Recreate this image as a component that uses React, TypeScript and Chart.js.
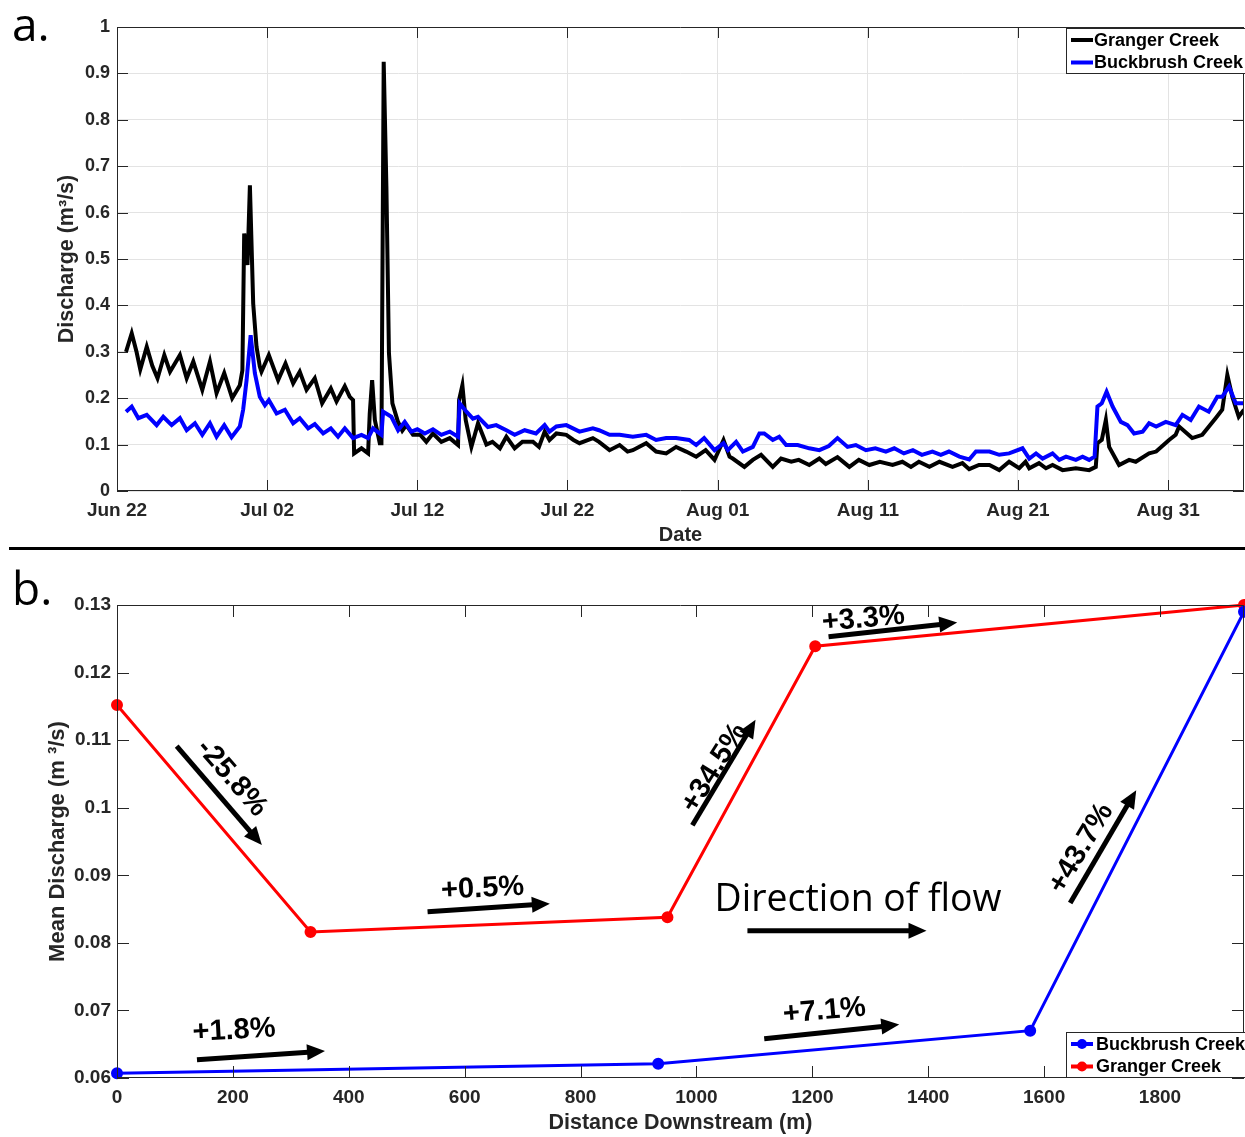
import React, { useEffect, useRef } from "react";
import { Chart, registerables } from "chart.js";

Chart.register(...registerables);

// ---------- Panel a: discharge time series ----------
const dateTickDays = [0, 10, 20, 30, 40, 50, 60, 70];
const dateTickLabels = ["Jun 22", "Jul 02", "Jul 12", "Jul 22", "Aug 01", "Aug 11", "Aug 21", "Aug 31"];
const dischargeTicks = [0, 0.1, 0.2, 0.3, 0.4, 0.5, 0.6, 0.7, 0.8, 0.9, 1];
const daysMax = 75.05;

const grangerDays = [
  0.6, 0.98, 1.3, 1.55, 1.98, 2.35, 2.7, 3.15, 3.53, 4.19, 4.64, 5.08, 5.68, 6.19, 6.63, 7.14, 7.67, 8.18, 8.35,
  8.47, 8.62, 8.69, 8.85, 9.07, 9.29, 9.51, 9.62, 10.11, 10.73, 11.22, 11.73, 12.17, 12.62, 13.17, 13.66, 14.24,
  14.62, 15.17, 15.5, 15.72, 15.79, 16.28, 16.72, 16.83, 16.99, 17.17, 17.5, 17.61, 17.76, 17.94, 18.11, 18.34,
  18.7, 19.0, 19.27, 19.71, 20.2, 20.6, 21.04, 21.6, 22.16, 22.71, 22.78, 23.0, 23.22, 23.6, 24.04, 24.6, 25.0,
  25.5, 25.93, 26.48, 27.0, 27.7, 28.1, 28.48, 28.8, 29.26, 29.92, 30.4, 30.8, 31.69, 32.1, 32.8, 33.47, 34.0,
  34.35, 35.24, 35.9, 36.57, 37.23, 37.9, 38.57, 39.2, 39.79, 40.39, 40.79, 41.0, 41.78, 42.34, 42.89, 43.67,
  44.22, 44.9, 45.4, 46.1, 46.77, 47.2, 47.98, 48.77, 49.4, 50.1, 50.8, 51.65, 52.3, 52.87, 53.4, 54.1, 54.77,
  55.64, 56.3, 56.75, 57.4, 58.1, 58.75, 59.41, 60.08, 60.5, 60.75, 61.4, 61.86, 62.3, 62.97, 63.85, 64.74,
  65.18, 65.29, 65.58, 65.85, 66.07, 66.73, 67.4, 67.84, 68.73, 69.2, 70.06, 70.5, 70.73, 71.6, 72.27, 73.16,
  73.6, 73.94, 74.27, 74.7, 75.05,
];
const grangerQ = [
  0.3, 0.34, 0.3, 0.262, 0.311, 0.27, 0.243, 0.293, 0.257, 0.293, 0.243, 0.279, 0.218, 0.279, 0.211, 0.254, 0.2,
  0.228, 0.26, 0.555, 0.52, 0.487, 0.659, 0.404, 0.311, 0.268, 0.257, 0.293, 0.239, 0.275, 0.232, 0.257, 0.218,
  0.243, 0.189, 0.221, 0.193, 0.226, 0.203, 0.196, 0.081, 0.092, 0.081, 0.167, 0.239, 0.153, 0.103, 0.103, 0.925,
  0.656, 0.297, 0.189, 0.15, 0.13, 0.142, 0.121, 0.121, 0.106, 0.124, 0.106, 0.114, 0.099, 0.196, 0.228, 0.153,
  0.095, 0.146, 0.1, 0.106, 0.092, 0.117, 0.092, 0.106, 0.106, 0.095, 0.128, 0.11, 0.124, 0.121, 0.11, 0.103,
  0.114, 0.106, 0.088, 0.099, 0.085, 0.088, 0.103, 0.085, 0.081, 0.095, 0.085, 0.074, 0.088, 0.067, 0.11, 0.074,
  0.07, 0.052, 0.067, 0.078, 0.052, 0.07, 0.063, 0.067, 0.056, 0.07, 0.058, 0.073, 0.052, 0.067, 0.056, 0.063,
  0.056, 0.063, 0.052, 0.063, 0.052, 0.063, 0.052, 0.06, 0.047, 0.056, 0.056, 0.045, 0.063, 0.049, 0.063, 0.049,
  0.06, 0.049, 0.056, 0.045, 0.049, 0.045, 0.052, 0.103, 0.11, 0.153, 0.095, 0.056, 0.067, 0.063, 0.081, 0.085,
  0.11, 0.121, 0.139, 0.114, 0.121, 0.157, 0.175, 0.25, 0.203, 0.16, 0.175,
];

const buckDays = [
  0.6, 0.98, 1.42, 1.98, 2.64, 3.08, 3.64, 4.19, 4.64, 5.19, 5.68, 6.19, 6.63, 7.14, 7.63, 8.18, 8.4, 8.63, 8.9,
  9.18, 9.51, 9.85, 10.11, 10.63, 11.18, 11.73, 12.17, 12.73, 13.17, 13.73, 14.24, 14.72, 15.17, 15.72, 16.28,
  16.72, 17.05, 17.61, 17.72, 18.27, 18.72, 19.16, 19.6, 20.0, 20.5, 21.04, 21.6, 22.16, 22.71, 22.82, 23.27,
  23.7, 24.04, 24.7, 25.25, 25.93, 26.48, 27.15, 27.9, 28.48, 28.8, 29.26, 29.92, 30.8, 31.69, 32.1, 32.8, 33.47,
  34.35, 35.24, 35.9, 36.57, 37.23, 38.1, 38.57, 39.1, 39.79, 40.39, 40.68, 41.23, 41.68, 42.34, 42.78, 43.1,
  43.67, 44.1, 44.56, 45.33, 46.1, 46.77, 47.4, 47.98, 48.65, 49.2, 49.87, 50.5, 51.2, 51.76, 52.4, 53.0, 53.6,
  54.3, 54.86, 55.4, 56.1, 56.75, 57.2, 58.1, 58.75, 59.41, 60.3, 60.75, 61.2, 61.64, 62.3, 62.75, 63.2, 63.85,
  64.3, 64.74, 65.1, 65.29, 65.58, 65.9, 66.3, 66.85, 67.29, 67.73, 68.3, 68.73, 69.2, 69.84, 70.5, 70.95, 71.5,
  72.05, 72.7, 73.27, 73.6, 74.05, 74.5, 75.05,
];
const buckQ = [
  0.171, 0.182, 0.157, 0.164, 0.142, 0.16, 0.142, 0.157, 0.131, 0.146, 0.121, 0.146, 0.117, 0.142, 0.116, 0.139,
  0.175, 0.239, 0.336, 0.254, 0.203, 0.185, 0.196, 0.167, 0.175, 0.146, 0.157, 0.135, 0.144, 0.124, 0.135, 0.117,
  0.135, 0.114, 0.121, 0.114, 0.135, 0.121, 0.171, 0.16, 0.131, 0.149, 0.128, 0.133, 0.124, 0.133, 0.121, 0.128,
  0.117, 0.189, 0.171, 0.156, 0.16, 0.138, 0.142, 0.131, 0.121, 0.131, 0.124, 0.142, 0.128, 0.139, 0.142, 0.128,
  0.135, 0.131, 0.121, 0.121, 0.117, 0.121, 0.11, 0.114, 0.114, 0.11, 0.099, 0.114, 0.088, 0.103, 0.088, 0.106,
  0.085, 0.095, 0.124, 0.124, 0.11, 0.117, 0.099, 0.099, 0.092, 0.088, 0.097, 0.114, 0.095, 0.099, 0.088, 0.092,
  0.085, 0.092, 0.081, 0.088, 0.078, 0.085, 0.078, 0.085, 0.074, 0.068, 0.085, 0.085, 0.078, 0.081, 0.092, 0.07,
  0.081, 0.07, 0.081, 0.067, 0.074, 0.067, 0.074, 0.067, 0.074, 0.182, 0.189, 0.214, 0.182, 0.149, 0.142, 0.124,
  0.128, 0.146, 0.139, 0.149, 0.142, 0.164, 0.153, 0.182, 0.171, 0.203, 0.203, 0.225, 0.189, 0.189,
];

// ---------- Panel b: mean discharge vs distance ----------
const distTicks = [0, 200, 400, 600, 800, 1000, 1200, 1400, 1600, 1800];
const meanQTicks = [0.06, 0.07, 0.08, 0.09, 0.1, 0.11, 0.12, 0.13];
const distMax = 1945;

const buckDist = [0, 934, 1576, 1945];
const buckMeanQ = [0.0607, 0.0621, 0.067, 0.129];
const grangerDist = [0, 334, 950, 1205, 1945];
const grangerMeanQ = [0.1152, 0.0816, 0.0838, 0.1239, 0.13];

const changeLabels = ["-25.8%", "+0.5%", "+34.5%", "+3.3%", "+1.8%", "+7.1%", "+43.7%"];
const flowLabel = "Direction of flow";

// annotation placement (in data units: metres, m3/s) and text angle
const changeNotes = [
  { tx: 198, tq: 0.1044, angle: 49, x1: 103, q1: 0.1091, x2: 250, q2: 0.0945 },
  { tx: 631, tq: 0.088, angle: -3, x1: 536, q1: 0.0846, x2: 747, q2: 0.0858 },
  { tx: 1031, tq: 0.1059, angle: -58, x1: 993, q1: 0.0974, x2: 1102, q2: 0.113 },
  { tx: 1288, tq: 0.1279, angle: -5, x1: 1228, q1: 0.1253, x2: 1450, q2: 0.1274 },
  { tx: 202, tq: 0.067, angle: -3, x1: 138, q1: 0.0627, x2: 359, q2: 0.064 },
  { tx: 1221, tq: 0.0699, angle: -5, x1: 1117, q1: 0.0658, x2: 1350, q2: 0.0679 },
  { tx: 1664, tq: 0.094, angle: -59, x1: 1645, q1: 0.0859, x2: 1759, q2: 0.1026 },
];
const flowNote = { tx: 1279, tq: 0.0863, x1: 1088, x2: 1397, q: 0.0818 };

const SANS = "'Liberation Sans', Arial, Helvetica, sans-serif";
const AXIS = "#262626";

const pts = (xs: number[], ys: number[]) => xs.map((x, i) => ({ x, y: ys[i] }));
const fmt = (v: number) => String(Number(Number(v).toFixed(3)));

function drawArrow(ctx: CanvasRenderingContext2D, x1: number, y1: number, x2: number, y2: number) {
  const lw = 5, headLen = 18, headW = 8;
  const a = Math.atan2(y2 - y1, x2 - x1);
  const bx = x2 - headLen * Math.cos(a);
  const by = y2 - headLen * Math.sin(a);
  ctx.lineWidth = lw;
  ctx.lineCap = "butt";
  ctx.beginPath();
  ctx.moveTo(x1, y1);
  ctx.lineTo(bx + 1 * Math.cos(a), by + 1 * Math.sin(a));
  ctx.stroke();
  ctx.beginPath();
  ctx.moveTo(x2, y2);
  ctx.lineTo(bx + headW * Math.sin(a), by - headW * Math.cos(a));
  ctx.lineTo(bx - headW * Math.sin(a), by + headW * Math.cos(a));
  ctx.closePath();
  ctx.fill();
}

const framePlugin = (tickLen: number, sides: { top: boolean; right: boolean }) => ({
  id: "frameTicks",
  afterDatasetsDraw(chart: any) {
    const { ctx, chartArea: ca, scales } = chart;
    ctx.save();
    ctx.strokeStyle = AXIS;
    ctx.lineWidth = 1;
    ctx.beginPath();
    ctx.rect(ca.left + 0.5, ca.top + 0.5, ca.right - ca.left - 1, ca.bottom - ca.top - 1);
    ctx.stroke();
    ctx.beginPath();
    for (const t of scales.x.ticks) {
      const x = Math.round(scales.x.getPixelForValue(t.value)) + 0.5;
      ctx.moveTo(x, ca.bottom);
      ctx.lineTo(x, ca.bottom - tickLen);
      if (sides.top) {
        ctx.moveTo(x, ca.top);
        ctx.lineTo(x, ca.top + tickLen);
      }
    }
    for (const t of scales.y.ticks) {
      const y = Math.round(scales.y.getPixelForValue(t.value)) + 0.5;
      ctx.moveTo(ca.left, y);
      ctx.lineTo(ca.left + tickLen, y);
      if (sides.right) {
        ctx.moveTo(ca.right, y);
        ctx.lineTo(ca.right - tickLen, y);
      }
    }
    ctx.stroke();
    ctx.restore();
  },
});

const boxLegendPlugin = (order: number[], placeTop: boolean, withMarker: boolean) => ({
  id: "boxLegend",
  afterDraw(chart: any) {
    const { ctx, chartArea: ca } = chart;
    const w = 179, h = 46, rowGap = 22.5;
    const left = ca.right - w + 1;
    const top = placeTop ? ca.top + 1 : ca.bottom - h;
    ctx.save();
    ctx.fillStyle = "#fff";
    ctx.fillRect(left, top, w, h);
    ctx.strokeStyle = AXIS;
    ctx.lineWidth = 1;
    ctx.strokeRect(left + 0.5, top + 0.5, w, h - 1);
    ctx.font = `bold 18px ${SANS}`;
    ctx.textBaseline = "middle";
    order.forEach((di, i) => {
      const ds = chart.data.datasets[di];
      const y = top + 12 + i * rowGap;
      ctx.strokeStyle = ds.borderColor;
      ctx.fillStyle = ds.borderColor;
      ctx.lineWidth = 4;
      ctx.beginPath();
      ctx.moveTo(left + 5, y);
      ctx.lineTo(left + 27, y);
      ctx.stroke();
      if (withMarker) {
        ctx.beginPath();
        ctx.arc(left + 16, y, 5, 0, Math.PI * 2);
        ctx.fill();
      }
      ctx.fillStyle = "#000";
      ctx.fillText(ds.label, left + (withMarker ? 30 : 28), y + 1);
    });
    ctx.restore();
  },
});

const notesPlugin = {
  id: "flowNotes",
  afterDraw(chart: any) {
    const { ctx, scales } = chart;
    const px = (v: number) => scales.x.getPixelForValue(v);
    const py = (v: number) => scales.y.getPixelForValue(v);
    ctx.save();
    ctx.fillStyle = "#000";
    ctx.strokeStyle = "#000";
    changeNotes.forEach((n, i) => {
      drawArrow(ctx, px(n.x1), py(n.q1), px(n.x2), py(n.q2));
      ctx.save();
      ctx.translate(px(n.tx), py(n.tq));
      ctx.rotate((n.angle * Math.PI) / 180);
      ctx.font = `bold 29px ${SANS}`;
      ctx.textAlign = "center";
      ctx.textBaseline = "middle";
      ctx.fillText(changeLabels[i], 0, 0);
      ctx.restore();
    });
    drawArrow(ctx, px(flowNote.x1), py(flowNote.q), px(flowNote.x2), py(flowNote.q));
    ctx.font = `38px 'Open Sans', 'Liberation Sans', sans-serif`;
    ctx.textAlign = "center";
    ctx.textBaseline = "middle";
    ctx.fillText(flowLabel, px(flowNote.tx), py(flowNote.tq), 287);
    ctx.restore();
  },
};

function makeConfigA(): any {
  return {
    type: "line",
    data: {
      datasets: [
        {
          label: "Buckbrush Creek",
          data: pts(buckDays, buckQ),
          borderColor: "#0000ff",
          borderWidth: 4,
          pointRadius: 0,
          tension: 0,
        },
        {
          label: "Granger Creek",
          data: pts(grangerDays, grangerQ),
          borderColor: "#000000",
          borderWidth: 4,
          pointRadius: 0,
          tension: 0,
        },
      ],
    },
    options: {
      animation: false,
      responsive: false,
      events: [],
      layout: { autoPadding: false, padding: { top: 27, right: 1, left: 0, bottom: 0 } },
      plugins: { legend: { display: false }, tooltip: { enabled: false } },
      scales: {
        x: {
          type: "linear",
          min: 0,
          max: daysMax,
          afterBuildTicks: (s: any) => {
            s.ticks = dateTickDays.map((v) => ({ value: v }));
          },
          afterFit: (s: any) => {
            s.height = 57;
          },
          grid: { color: "#e3e3e3", drawTicks: false },
          border: { display: false },
          ticks: {
            autoSkip: false,
            maxRotation: 0,
            padding: 8,
            color: AXIS,
            font: { family: SANS, size: 19, weight: "bold" },
            callback: (v: number) => dateTickLabels[dateTickDays.indexOf(v)] ?? "",
          },
          title: {
            display: true,
            text: "Date",
            color: AXIS,
            padding: { top: 0, bottom: 1 },
            font: { family: SANS, size: 20, weight: "bold" },
          },
        },
        y: {
          min: 0,
          max: 1,
          afterBuildTicks: (s: any) => {
            s.ticks = dischargeTicks.map((v) => ({ value: v }));
          },
          afterFit: (s: any) => {
            s.width = 117;
          },
          grid: { color: "#e3e3e3", drawTicks: false },
          border: { display: false },
          ticks: {
            padding: 7,
            color: AXIS,
            font: { family: SANS, size: 18, weight: "bold" },
            callback: (v: number) => fmt(v),
          },
          title: {
            display: true,
            text: "Discharge (m³/s)",
            color: AXIS,
            padding: { top: 54, bottom: 0 },
            font: { family: SANS, size: 21.5, weight: "bold" },
          },
        },
      },
    },
    plugins: [framePlugin(11, { top: true, right: true }), boxLegendPlugin([1, 0], true, false)],
  };
}

function makeConfigB(): any {
  return {
    type: "line",
    data: {
      datasets: [
        {
          label: "Buckbrush Creek",
          data: pts(buckDist, buckMeanQ),
          borderColor: "#0000ff",
          backgroundColor: "#0000ff",
          borderWidth: 3,
          pointRadius: 4.5,
          pointBackgroundColor: "#0000ff",
          pointBorderColor: "#0000ff",
          tension: 0,
          clip: 10,
        },
        {
          label: "Granger Creek",
          data: pts(grangerDist, grangerMeanQ),
          borderColor: "#ff0000",
          backgroundColor: "#ff0000",
          borderWidth: 3,
          pointRadius: 4.5,
          pointBackgroundColor: "#ff0000",
          pointBorderColor: "#ff0000",
          tension: 0,
          clip: 10,
        },
      ],
    },
    options: {
      animation: false,
      responsive: false,
      events: [],
      layout: { autoPadding: false, padding: { top: 55, right: 1, left: 0, bottom: 0 } },
      plugins: { legend: { display: false }, tooltip: { enabled: false } },
      scales: {
        x: {
          type: "linear",
          min: 0,
          max: distMax,
          afterBuildTicks: (s: any) => {
            s.ticks = distTicks.map((v) => ({ value: v }));
          },
          afterFit: (s: any) => {
            s.height = 59;
          },
          grid: { display: false, drawTicks: false },
          border: { display: false },
          ticks: {
            autoSkip: false,
            maxRotation: 0,
            padding: 8,
            color: AXIS,
            font: { family: SANS, size: 19, weight: "bold" },
            callback: (v: number) => String(v),
          },
          title: {
            display: true,
            text: "Distance Downstream (m)",
            color: AXIS,
            padding: { top: 0, bottom: 1 },
            font: { family: SANS, size: 21.5, weight: "bold" },
          },
        },
        y: {
          min: 0.06,
          max: 0.13,
          afterBuildTicks: (s: any) => {
            s.ticks = meanQTicks.map((v) => ({ value: v }));
          },
          afterFit: (s: any) => {
            s.width = 117;
          },
          grid: { display: false, drawTicks: false },
          border: { display: false },
          ticks: {
            padding: 6,
            color: AXIS,
            font: { family: SANS, size: 19, weight: "bold" },
            callback: (v: number) => fmt(v),
          },
          title: {
            display: true,
            text: "Mean Discharge (m ³/s)",
            color: AXIS,
            padding: { top: 45, bottom: 0 },
            font: { family: SANS, size: 22, weight: "bold" },
          },
        },
      },
    },
    plugins: [framePlugin(12, { top: true, right: true }), notesPlugin, boxLegendPlugin([0, 1], false, true)],
  };
}

export default function App() {
  const refA = useRef<HTMLCanvasElement>(null);
  const refB = useRef<HTMLCanvasElement>(null);

  useEffect(() => {
    const a = new Chart(refA.current as HTMLCanvasElement, makeConfigA());
    const b = new Chart(refB.current as HTMLCanvasElement, makeConfigB());
    return () => {
      a.destroy();
      b.destroy();
    };
  }, []);

  const panelLabel: React.CSSProperties = {
    position: "absolute",
    left: 12,
    font: "46px 'Open Sans', 'Liberation Sans', sans-serif",
    lineHeight: "46px",
    color: "#000",
  };

  return (
    <div
      style={{
        position: "absolute",
        left: 0,
        top: 0,
        width: 1245,
        height: 1137,
        background: "#fff",
        overflow: "hidden",
      }}
    >
      <canvas ref={refA} width={1245} height={548} style={{ position: "absolute", left: 0, top: 0 }} />
      <canvas ref={refB} width={1245} height={587} style={{ position: "absolute", left: 0, top: 550 }} />
      <div style={{ ...panelLabel, top: 0 }}>a.</div>
      <div style={{ ...panelLabel, top: 564 }}>b.</div>
      <div
        style={{ position: "absolute", left: 9, top: 547, width: 1236, height: 3, background: "#000" }}
      />
    </div>
  );
}
